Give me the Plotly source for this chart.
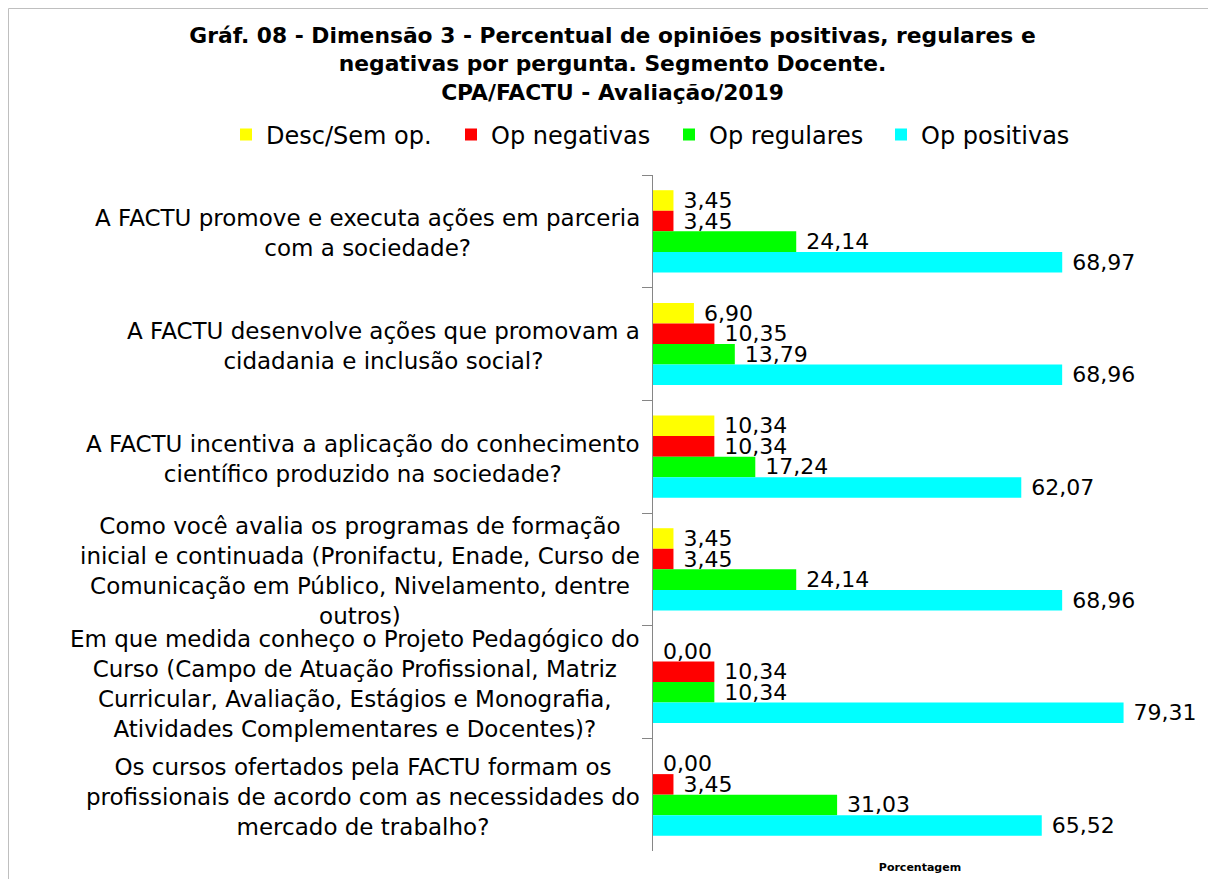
import plotly.graph_objects as go

categories = [
    "A FACTU promove e executa ações em parceria<br>com a sociedade?",
    "A FACTU desenvolve ações que promovam a<br>cidadania e inclusão social?",
    "A FACTU incentiva a aplicação do conhecimento<br>científico produzido na sociedade?",
    "Como você avalia os programas de formação<br>inicial e continuada (Pronifactu, Enade, Curso de<br>Comunicação em Público, Nivelamento, dentre<br>outros)",
    "Em que medida conheço o Projeto Pedagógico do<br>Curso (Campo de Atuação Profissional, Matriz<br>Curricular, Avaliação, Estágios e Monografia,<br>Atividades Complementares e Docentes)?",
    "Os cursos ofertados pela FACTU formam os<br>profissionais de acordo com as necessidades do<br>mercado de trabalho?",
]
series_names = ["Desc/Sem op.", "Op negativas", "Op regulares", "Op positivas"]
desc_sem_op = [3.45, 6.90, 10.34, 3.45, 0.00, 0.00]
op_negativas = [3.45, 10.35, 10.34, 3.45, 10.34, 3.45]
op_regulares = [24.14, 13.79, 17.24, 24.14, 10.34, 31.03]
op_positivas = [68.97, 68.96, 62.07, 68.96, 79.31, 65.52]

# styles
colors = ["#FFFF00", "#FF0000", "#00FF00", "#00FFFF"]
legend_entry_widths = [180, 173, 167, 165]

# the page body has an 8px margin, so the figure is drawn 8px in from the window edge
W, H = 1208, 871
L, R, T, B = 645, 29, 167, 28
pw, ph = W - L - R, H - T - B

FONT = "DejaVu Sans"

fig = go.Figure()
for name, vals, col, lw in zip(series_names, [desc_sem_op, op_negativas, op_regulares, op_positivas],
                               colors, legend_entry_widths):
    fig.add_trace(go.Bar(
        y=categories, x=vals, name=name, orientation="h",
        marker=dict(color=col, line=dict(width=0)),
        texttemplate="\u00a0%{x:.2f}", textposition="outside",
        textfont=dict(family=FONT, size=22, color="black"),
        constraintext="none", cliponaxis=False, legendwidth=lw,
    ))

for cat in categories:
    fig.add_annotation(
        x=0, y=cat, xref="x", yref="y", text=cat, showarrow=False,
        xanchor="right", yanchor="middle", align="center", xshift=-11, yshift=-2,
        font=dict(family=FONT, size=23, color="black"),
    )

# chart border
fig.add_shape(type="rect", xref="paper", yref="paper",
              x0=(0.5 - L) / pw, x1=(1203 - L) / pw,
              y0=-(H + 20 - (T + ph)) / ph,
              y1=(T + ph - 0.5) / ph,
              line=dict(color="#BFBFBF", width=1), layer="below")

fig.update_layout(
    width=W, height=H,
    margin=dict(l=L, r=R, t=T, b=B, autoexpand=False),
    paper_bgcolor="white", plot_bgcolor="white",
    separators=",.",
    barmode="group", bargap=0.27, bargroupgap=0,
    title=dict(
        text="<b>Gráf. 08 - Dimensão 3 - Percentual de opiniões positivas, regulares e<br>negativas por pergunta. Segmento Docente.<br>CPA/FACTU - Avaliação/2019</b>",
        x=604.5 / W, xanchor="center", xref="container",
        y=1 - 35 / H, yanchor="top", yref="container",
        font=dict(family=FONT, size=21.8, color="black"),
    ),
    legend=dict(
        orientation="h", xref="paper", yref="paper",
        x=(218 - L) / pw, xanchor="left",
        y=(T + ph - 127) / ph, yanchor="middle",
        font=dict(family=FONT, size=24, color="black"),
        traceorder="normal", itemwidth=30,
    ),
    xaxis=dict(range=[0, 90], showgrid=False, zeroline=False, showline=False,
               showticklabels=False, ticks="",
               title=dict(text="<b>Porcentagem</b>", standoff=12,
                          font=dict(family=FONT, size=11, color="black"))),
    yaxis=dict(autorange="reversed", showticklabels=False, showgrid=False,
               showline=True, linecolor="#868686", linewidth=1,
               ticks="outside", tickson="boundaries", ticklen=10, tickcolor="#868686",
               zeroline=False),
)

fig.write_html("out.html")
